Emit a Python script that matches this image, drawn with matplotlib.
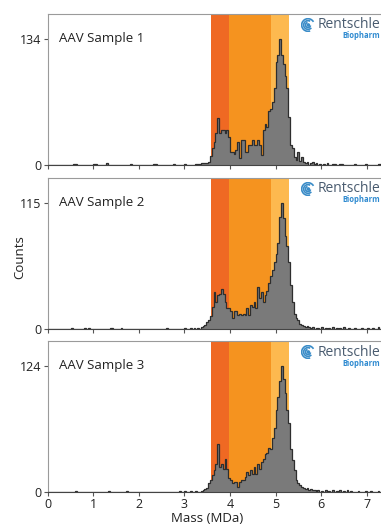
import numpy as np
import matplotlib
matplotlib.use("Agg")
import matplotlib.pyplot as plt
from matplotlib.patches import Arc, Circle

plt.rcParams['font.family'] = ['Open Sans', 'DejaVu Sans']

# histogram data, bin width 0.04 MDa
bin_width = 0.04
main_start = 3.36  # left edge of the first bin of the main block

sample_names = ["AAV Sample 1", "AAV Sample 2", "AAV Sample 3"]
peak_labels = [134, 115, 124]

counts_1 = [2, 2, 2, 2, 3, 10, 18, 24, 34, 50, 34, 37, 37, 34, 37, 30,
            14, 14, 12, 16, 25, 7, 27, 27, 14, 14, 21, 21, 27, 21, 21, 27,
            21, 11, 37, 44, 40, 57, 60, 67, 82, 110, 117, 134, 117, 108,
            95, 82, 51, 21, 18, 9, 5, 14, 4, 8, 3, 2, 3]
counts_2 = [2, 3, 4, 6, 8, 12, 20, 34, 25, 31, 32, 37, 32, 25, 19, 19,
            16, 10, 16, 16, 13, 14, 13, 14, 13, 19, 13, 22, 20, 25, 19, 38,
            28, 34, 25, 31, 35, 42, 48, 54, 61, 69, 79, 102, 115, 101, 85,
            76, 61, 40, 25, 14, 10, 8, 5, 4, 3]
counts_3 = [1, 2, 3, 4, 9, 12, 17, 22, 28, 47, 25, 28, 23, 33, 23, 14,
            12, 9, 10, 10, 5, 10, 12, 12, 15, 20, 17, 22, 18, 25, 18, 28,
            23, 30, 33, 37, 38, 43, 42, 53, 63, 81, 94, 109, 124, 111, 98,
            81, 68, 42, 32, 22, 12, 9, 7, 5, 4]

# sparse background counts (bin left edge, count)
noise_1 = [(0.56, 1), (0.60, 1), (1.00, 1), (1.04, 1), (1.28, 2), (1.80, 1),
           (2.32, 1), (2.36, 1), (2.76, 1), (3.00, 1), (3.24, 1), (3.28, 1),
           (3.32, 1), (5.76, 2), (5.80, 3), (5.84, 1), (5.88, 2), (5.96, 1),
           (6.04, 1), (6.12, 2), (6.24, 1), (6.28, 1), (6.40, 1), (6.44, 1),
           (6.72, 1), (6.96, 1), (7.24, 1), (7.28, 1)]
noise_2 = [(0.52, 1), (0.80, 1), (0.88, 1), (1.36, 1), (1.40, 1), (1.60, 1),
           (2.60, 1), (3.00, 1), (3.12, 1), (3.20, 1), (3.28, 1),
           (5.64, 2), (5.68, 3), (5.72, 2), (5.76, 1), (5.80, 2), (5.88, 1),
           (5.92, 1), (6.00, 2), (6.08, 1), (6.16, 1), (6.24, 2), (6.32, 1),
           (6.40, 1), (6.48, 2), (6.60, 1), (6.72, 1), (6.88, 1), (7.00, 1),
           (7.12, 1), (7.24, 2)]
noise_3 = [(0.60, 1), (1.32, 1), (1.72, 1), (2.88, 1), (3.00, 1), (3.12, 1),
           (3.24, 1), (5.64, 3), (5.68, 4), (5.72, 2), (5.76, 3), (5.80, 2),
           (5.84, 2), (5.92, 2), (6.00, 1), (6.08, 2), (6.16, 1), (6.24, 2),
           (6.32, 1), (6.40, 2), (6.48, 1), (6.56, 2), (6.64, 1), (6.80, 1),
           (6.96, 1), (7.08, 1), (7.24, 1)]

all_counts = [counts_1, counts_2, counts_3]
all_noise = [noise_1, noise_2, noise_3]

# shaded mass windows (MDa)
band_edges = [3.59, 3.97, 4.90, 5.29]
band_colors = ["#EF6923", "#F5931F", "#FDB94F"]

x_max = 7.314

fig = plt.figure(figsize=(3.81, 5.24), dpi=100)
panel_bottoms = [1 - 165 / 524, 1 - 329 / 524, 1 - 492 / 524]
panel_h = 151 / 524
left = 47.7 / 381

edges = np.round(np.arange(0, x_max + bin_width, bin_width), 2)

for i in range(3):
    ax = fig.add_axes([left, panel_bottoms[i], 1 - left, panel_h])
    hist = np.zeros(len(edges) - 1)
    i0 = int(round(main_start / bin_width))
    hist[i0:i0 + len(all_counts[i])] = all_counts[i]
    for m, c in all_noise[i]:
        hist[int(round(m / bin_width))] = c

    for j in range(3):
        ax.axvspan(band_edges[j], band_edges[j + 1], color=band_colors[j],
                   lw=0, zorder=1)
    ax.stairs(hist, edges, fill=True, color="#7A7A7A", zorder=2)
    ax.stairs(hist, edges, color="#2E2E2E", lw=0.9, zorder=3)

    ax.set_xlim(0, x_max)
    ax.set_ylim(0, peak_labels[i] * 1.2)
    ax.set_yticks([0, peak_labels[i]])
    ax.set_xticks(range(8))
    ax.tick_params(labelsize=9, length=3, width=0.8, color="#555555",
                   labelcolor="#222222", pad=1.5)
    if i < 2:
        ax.set_xticklabels([])
    ax.spines['right'].set_visible(False)
    ax.spines['top'].set_color("#9A9A9A")
    ax.spines['left'].set_color("#9A9A9A")
    ax.spines['bottom'].set_color("#444444")
    ax.text(0.035, 0.84, sample_names[i], transform=ax.transAxes,
            fontsize=9.5, color="#222222", va="center")

    # logo (cut at the right edge as in the source image)
    top_px = 524 * (1 - panel_bottoms[i] - panel_h)
    fig.text(380 / 381, 1 - (top_px + 11) / 524, "Rentschle",
             fontsize=10, color="#4A5C70", ha="right", va="center")
    fig.text(380 / 381, 1 - (top_px + 22) / 524, "Biopharm",
             fontsize=5.5, color="#2E8AD0", ha="right", va="center",
             fontweight="bold")
    ic = fig.add_axes([301 / 381, 1 - (top_px + 18) / 524,
                       14 / 381, 14 / 524])
    ic.set_xlim(-1, 1)
    ic.set_ylim(-1, 1)
    ic.set_aspect("equal")
    ic.axis("off")
    for r, t1, t2 in [(0.9, 30, 290), (0.62, 60, 320), (0.36, 100, 350)]:
        ic.add_patch(Arc((0, 0), 2 * r, 2 * r, theta1=t1, theta2=t2,
                         color="#3A8CC8", lw=1.2))
    ic.add_patch(Circle((0.05, 0), 0.16, color="#3A8CC8"))

fig.text(20 / 381, 1 - 257 / 524, "Counts", rotation=90, fontsize=9.5,
         color="#222222", ha="center", va="center")
fig.text((47.7 + 3.5 * 45.57) / 381, 1 - 518 / 524, "Mass (MDa)",
         fontsize=9.5, color="#222222", ha="center", va="center")

fig.savefig("out.png", dpi=100)
